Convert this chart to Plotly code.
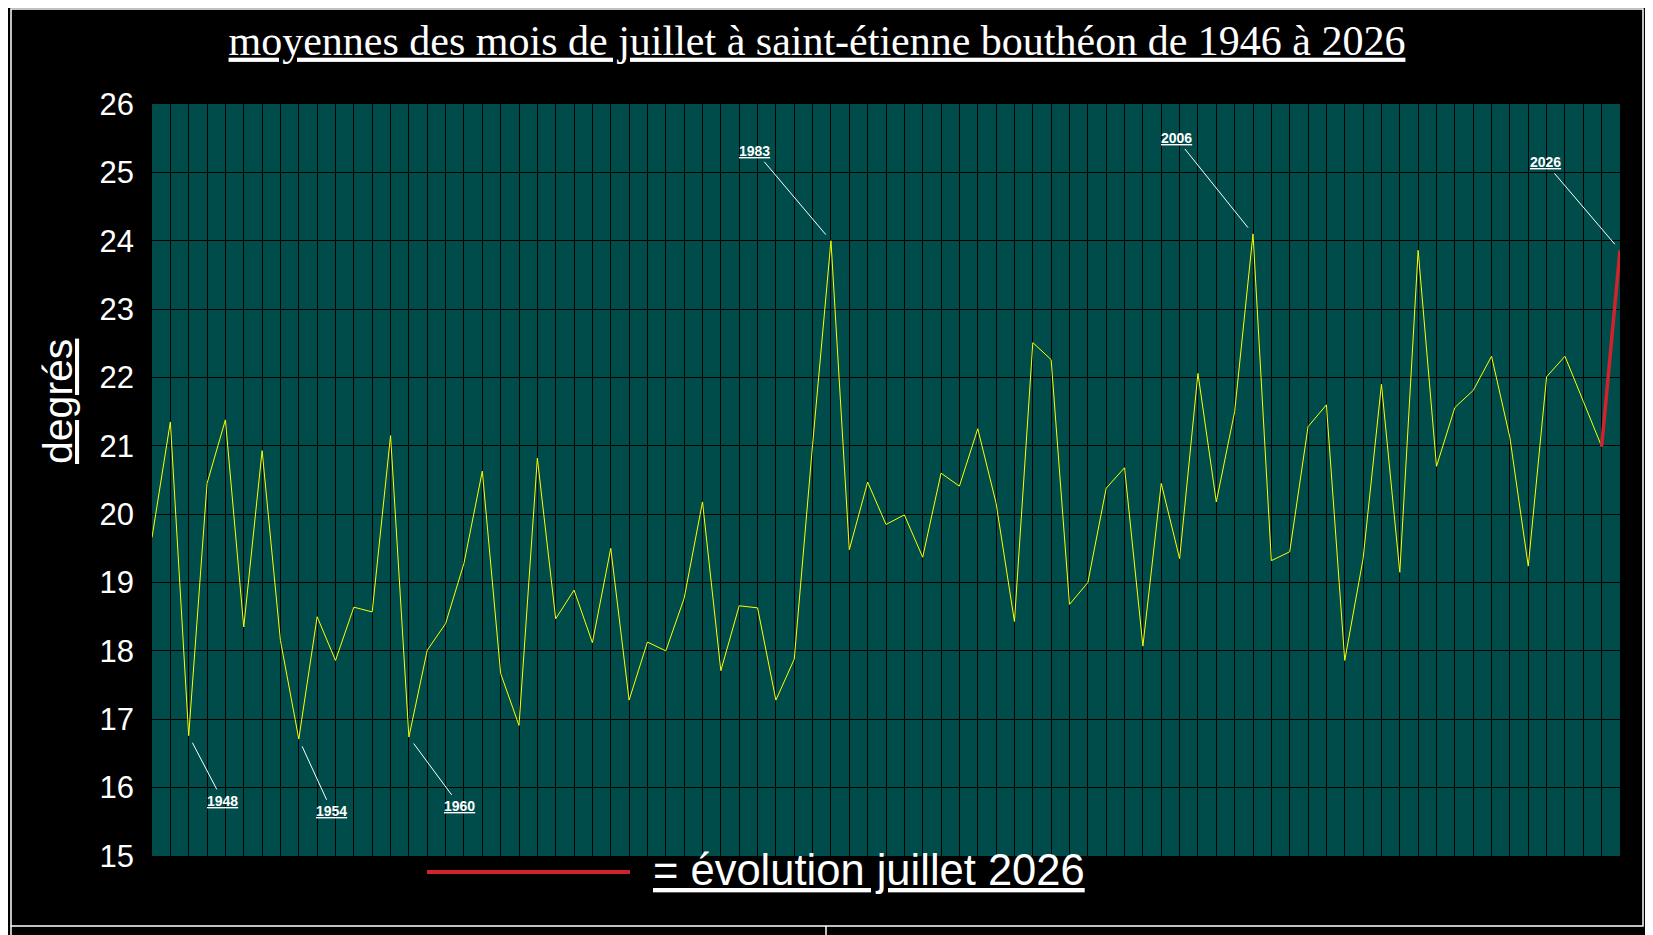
import plotly.graph_objects as go

# moyennes de juillet, saint-étienne bouthéon
years = list(range(1946, 2027))
temps = [
    19.66, 21.35, 16.76, 20.45, 21.38, 18.35, 20.93, 18.15, 16.71, 18.50,
    17.86, 18.64, 18.57, 21.15, 16.74, 18.01, 18.40, 19.28, 20.63, 17.67,
    16.91, 20.82, 18.47, 18.89, 18.12, 19.50, 17.28, 18.13, 18.00, 18.77,
    20.18, 17.71, 18.66, 18.63, 17.28, 17.88, 21.02, 24.00, 19.48, 20.47,
    19.85, 19.99, 19.37, 20.60, 20.41, 21.25, 20.16, 18.43, 22.51, 22.26,
    18.68, 19.00, 20.38, 20.68, 18.07, 20.45, 19.35, 22.06, 20.18, 21.50,
    24.10, 19.32, 19.45, 21.28, 21.60, 17.86, 19.35, 21.90, 19.15, 23.86,
    20.70, 21.56, 21.81, 22.31, 21.12, 19.24, 22.01, 22.31, 21.65, 20.99,
    23.86,
]
y_ticks = list(range(15, 27))

title_text = "moyennes des mois de juillet à saint-étienne bouthéon de 1946 à 2026"
y_title = "degrés"
legend_text = "= évolution juillet 2026"

# années annotées et décalage (px) de l'étiquette par rapport au point
labelled_years = [1948, 1954, 1960, 1983, 2006, 2026]
label_offsets = [(34, 65), (33, 72), (51, 69), (-76, -90), (-77, -96), (-75, -88)]

# la page html garde une marge de 8px autour de la figure
OFF = 8
W, H = 1653 - OFF, 935 - OFF
L, R, T, B = 152 - OFF, 33, 104 - OFF, 79
plot_w = W - L - R
plot_h = H - T - B


def px_x(px):
    # position horizontale en pixels de page -> coordonnées paper
    return (px - OFF - L) / plot_w


def px_y(py):
    return (H - B - (py - OFF)) / plot_h


fig = go.Figure()

# série historique en jaune
fig.add_trace(go.Scatter(
    x=years[:-1], y=temps[:-1],
    mode="lines",
    line=dict(color="#FFFF00", width=1),
    hoverinfo="skip",
))

# dernier segment (évolution juillet 2026) en rouge
fig.add_trace(go.Scatter(
    x=years[-2:], y=temps[-2:],
    mode="lines",
    line=dict(color="#D0232B", width=3.5),
    hoverinfo="skip",
))

annotations = []
for yr, (ax, ay) in zip(labelled_years, label_offsets):
    annotations.append(dict(
        x=yr, y=temps[years.index(yr)], xref="x", yref="y",
        text="<b><u>%d</u></b>" % yr,
        showarrow=True, arrowhead=0, arrowwidth=1, arrowcolor="white",
        ax=ax, ay=ay, standoff=8, startstandoff=2,
        font=dict(family="Liberation Sans", size=14, color="white"),
    ))

# titre de l'axe y (décalé vers le haut comme sur l'original)
annotations.append(dict(
    x=px_x(58), y=px_y(402), xref="paper", yref="paper",
    text="<u>%s</u>" % y_title, textangle=-90, showarrow=False,
    xanchor="center", yanchor="middle",
    font=dict(family="Liberation Sans", size=41, color="white"),
))

# légende manuelle
annotations.append(dict(
    x=px_x(651), y=px_y(870), xref="paper", yref="paper",
    text="<u>%s</u>" % legend_text, showarrow=False,
    xanchor="left", yanchor="middle",
    font=dict(family="Liberation Sans", size=43.5, color="white"),
))

shapes = [
    # trait rouge de la légende
    dict(type="line", xref="paper", yref="paper",
         x0=px_x(427), x1=px_x(630), y0=px_y(872), y1=px_y(872),
         line=dict(color="#D0232B", width=4)),
    # cadre blanc autour du graphique
    dict(type="rect", xref="paper", yref="paper",
         x0=px_x(11), x1=px_x(1643), y0=px_y(926), y1=px_y(9),
         line=dict(color="white", width=1.5)),
    dict(type="line", xref="paper", yref="paper",
         x0=px_x(11), x1=px_x(11), y0=px_y(935), y1=px_y(926),
         line=dict(color="white", width=1.5)),
    dict(type="line", xref="paper", yref="paper",
         x0=px_x(826), x1=px_x(826), y0=px_y(935), y1=px_y(926),
         line=dict(color="white", width=1.5)),
]

fig.update_layout(
    width=W, height=H,
    margin=dict(l=L, r=R, t=T, b=B),
    paper_bgcolor="black",
    plot_bgcolor="#004C4A",
    showlegend=False,
    title=dict(
        text="<u>%s</u>" % title_text,
        x=(817 - OFF) / W, xanchor="center", xref="container",
        y=1 - (40 - OFF) / H, yanchor="middle", yref="container",
        font=dict(family="Liberation Serif", size=42, color="white"),
    ),
    annotations=annotations,
    shapes=shapes,
)

fig.update_xaxes(
    range=[years[0], years[-1]], dtick=1, tick0=years[0],
    showgrid=True, gridcolor="black", gridwidth=1,
    showticklabels=False, zeroline=False, showline=False, ticks="",
)
fig.update_yaxes(
    range=[y_ticks[0], y_ticks[-1]], tickvals=y_ticks,
    showgrid=True, gridcolor="black", gridwidth=1,
    zeroline=False, showline=False, ticks="", ticklabelstandoff=17,
    tickfont=dict(family="Liberation Sans", size=31, color="white"),
)

fig.write_html("out.html")
